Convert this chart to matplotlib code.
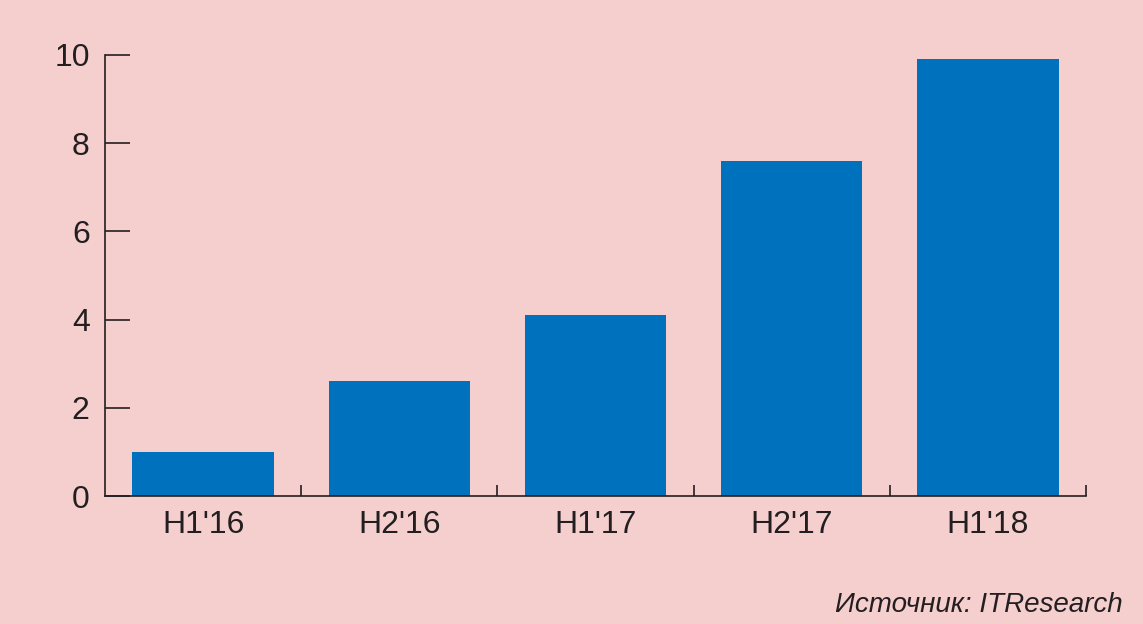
import numpy as np
import matplotlib.pyplot as plt
from matplotlib import font_manager

# data
periods = ["H1'16", "H2'16", "H1'17", "H2'17", "H1'18"]
values = [1.0, 2.6, 4.1, 7.6, 9.9]
source = "Источник: ITResearch"

bg = "#F5CFCE"
blue = "#0071BC"
ink = "#231F20"

names = {f.name for f in font_manager.fontManager.ttflist}
fam = "Liberation Sans Narrow" if "Liberation Sans Narrow" in names else "Liberation Sans"
plt.rcParams["font.family"] = [fam, "DejaVu Sans"]

fig = plt.figure(figsize=(11.43, 6.24), dpi=100, facecolor=bg)
ax = fig.add_axes([105 / 1143, 1 - 496 / 624, 981 / 1143, 441 / 624])
ax.set_facecolor(bg)

x = np.arange(len(periods))
ax.bar(x, values, width=0.72, color=blue, zorder=2)

ax.set_xlim(-0.5, len(periods) - 0.5)
ax.set_ylim(0, 10)
ax.set_yticks([0, 2, 4, 6, 8, 10])
ax.set_xticks(x)
ax.set_xticklabels(periods)
ax.set_xticks(np.arange(len(periods)) + 0.5, minor=True)

for s in ["top", "right"]:
    ax.spines[s].set_visible(False)
for s in ["left", "bottom"]:
    ax.spines[s].set_color(ink)
    ax.spines[s].set_linewidth(1.2)

ax.tick_params(axis="y", direction="in", length=18, width=1.2, color=ink,
               labelsize=23, labelcolor=ink, pad=11)
ax.tick_params(axis="x", which="major", length=0, labelsize=23,
               labelcolor=ink, pad=10)
ax.tick_params(axis="x", which="minor", direction="in", length=8,
               width=1.2, color=ink)

fig.text(1123 / 1143, 1 - 612 / 624, source, ha="right", va="baseline",
         fontsize=20, style="italic", color=ink)

fig.savefig("out.png", dpi=100, facecolor=bg)
